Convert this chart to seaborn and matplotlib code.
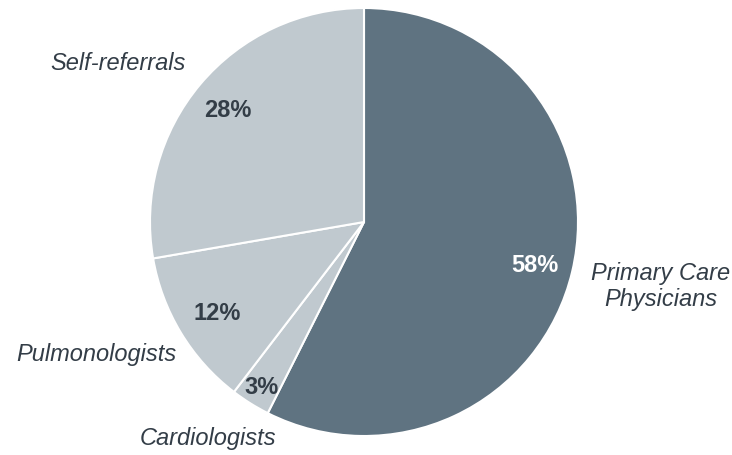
import numpy as np
import seaborn as sns
import matplotlib.pyplot as plt

sns.set_style("white")
plt.rcParams["font.family"] = ["Liberation Sans", "DejaVu Sans"]

categories = ["Primary Care\nPhysicians", "Cardiologists", "Pulmonologists", "Self-referrals"]
shares = [58, 3, 12, 28]
pct_labels = ["58%", "3%", "12%", "28%"]

colors = ["#5f7381", "#c0c9cf", "#c0c9cf", "#c0c9cf"]
pct_colors = ["white", "#333d47", "#333d47", "#333d47"]
pct_radius = [0.82, 0.9, 0.8, 0.83]
# label positions (layout only)
label_pos = [(1.385, -0.30), (-0.73, -1.01), (-1.25, -0.62), (-1.15, 0.74)]
text_color = "#333d47"

W, H = 732, 455
cx, cy, r = 364, 222, 214
fig = plt.figure(figsize=(W / 100, H / 100), dpi=100)
ax = fig.add_axes([0, 0, 1, 1])

wedges, _ = ax.pie(shares, colors=colors, startangle=90, counterclock=False,
                   wedgeprops=dict(edgecolor="white", linewidth=1.5))
ax.set_xlim(-cx / r, (W - cx) / r)
ax.set_ylim(-(H - cy) / r, cy / r)
ax.set_axis_off()

for w, lab, col, rad in zip(wedges, pct_labels, pct_colors, pct_radius):
    ang = np.deg2rad((w.theta1 + w.theta2) / 2)
    ax.text(rad * np.cos(ang), rad * np.sin(ang) - 0.012, lab, ha="center", va="center",
            fontsize=17, fontweight="bold", color=col)

for lab, (x, y) in zip(categories, label_pos):
    ax.text(x, y, lab, ha="center", va="center", fontsize=17, fontstyle="italic",
            color=text_color, linespacing=1.15)

fig.savefig("out.png", dpi=100)
